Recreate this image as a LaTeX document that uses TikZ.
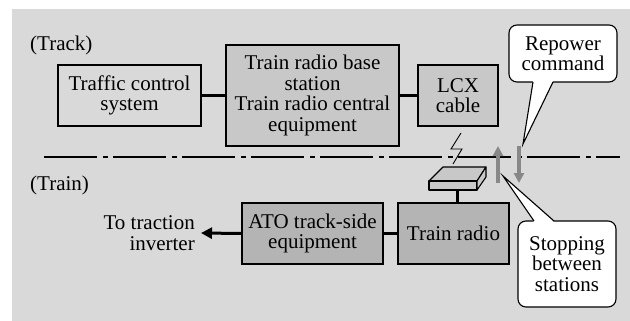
\documentclass[tikz,border=0pt]{standalone}
\usepackage{fontspec}
\setmainfont{Liberation Serif}
\newfontfamily\labelfont{Liberation Serif}
\usetikzlibrary{arrows.meta}
\definecolor{panelgray}{HTML}{D9D9D9}
\definecolor{lightbox}{HTML}{C8C8C8}
\definecolor{darkbox}{HTML}{B4B4B4}
\definecolor{arrowgray}{HTML}{888888}
\begin{document}
\begin{tikzpicture}[x=1pt,y=-1pt,
  every node/.style={font=\labelfont\fontsize{21}{20.5}\selectfont, inner sep=0pt, align=center},
  block/.style={draw=black, line width=1.1pt, minimum width=#1},
  block/.default=100pt,
  link/.style={line width=3pt},
  bubble/.style={draw=black, line width=1.1pt, fill=white, rounded corners=8pt},
  label/.style={anchor=west}
]
\useasboundingbox (0,0) rectangle (630,321);
\fill[panelgray] (12,9) rectangle (630,321);

% side labels
\node[label] (track) at (30,45) {(Track)};
\node[label] (train) at (30,185) {(Train)};

% wayside equipment
\node[block=143pt, minimum height=61pt] (tcs) at (129.5,95.5) {Traffic control\\system};
\node[block=173pt, minimum height=101pt, fill=lightbox] (base) at (312.5,95.5)
  {Train radio base\\station\\Train radio central\\equipment};
\node[block=80pt, minimum height=61pt, fill=lightbox] (lcx) at (458,95.5) {LCX\\cable};
\draw[link] (tcs.east) -- (base.west);
\draw[link] (base.east |- lcx.west) -- (lcx.west);

% boundary between track and train
\draw[line width=2.4pt, dash pattern=on 53pt off 6pt on 5pt off 5pt] (44,157) -- (620,157);

% radio link symbol
\draw[line width=0.9pt] (461,133) -- (451,149) -- (462,149) -- (453,164);

% on-board equipment
\node[block=141pt, minimum height=61pt, fill=darkbox] (ato) at (312.5,233.5) {ATO track-side\\equipment};
\node[block=111pt, minimum height=61pt, fill=darkbox] (radio) at (453.5,233.5) {Train radio};
\draw[link] (ato.east) -- (radio.west);
\node[anchor=east, align=right] (inv) at (195,233) {To traction\\inverter};
\coordinate (invtip) at (201,233);
\draw[link, -{Triangle[width=11pt,length=11pt]}] (ato.west) -- (invtip);

% antenna box on the train roof
\coordinate (antbase) at (457,190);
\draw[line width=1.1pt, fill=lightbox, line join=round]
  (429,181) -- (477,181) -- (486,167) -- (443,167) -- cycle;
\draw[line width=1.1pt, fill=lightbox, line join=round]
  (429,181) rectangle (477,190);
\draw[line width=1.1pt, fill=lightbox, line join=round]
  (477,181) -- (486,167) -- (486,177) -- (477,190) -- cycle;
\draw[link] (antbase) -- (radio.north -| antbase);

% stop / repower arrows
\coordinate (upfoot) at (498,183);
\coordinate (uphead) at (498,146);
\coordinate (dnfoot) at (519,146);
\coordinate (dnhead) at (519,183);
\draw[arrowgray, line width=3.5pt, -{Triangle[width=10pt,length=10pt]}] (upfoot) -- (uphead);
\draw[arrowgray, line width=3.5pt, -{Triangle[width=10pt,length=10pt]}] (dnfoot) -- (dnhead);

% callouts
\node[bubble, minimum width=108pt, minimum height=57pt] (repower) at (563,53.5) {Repower\\command};
\coordinate (reptip) at (523,144);
\fill[white] (533,81) -- (reptip) -- (553,81) -- cycle;
\draw[line width=1.1pt, line join=miter] (533,82) -- (reptip) -- (553,82);

\node[bubble, minimum width=98pt, minimum height=86pt] (stop) at (567,264) {Stopping\\between\\stations};
\coordinate (stoptip) at (503,176);
\fill[white] (534,222) -- (stoptip) -- (554,222) -- cycle;
\draw[line width=1.1pt, line join=miter] (534,221) -- (stoptip) -- (554,221);
\end{tikzpicture}
\end{document}
